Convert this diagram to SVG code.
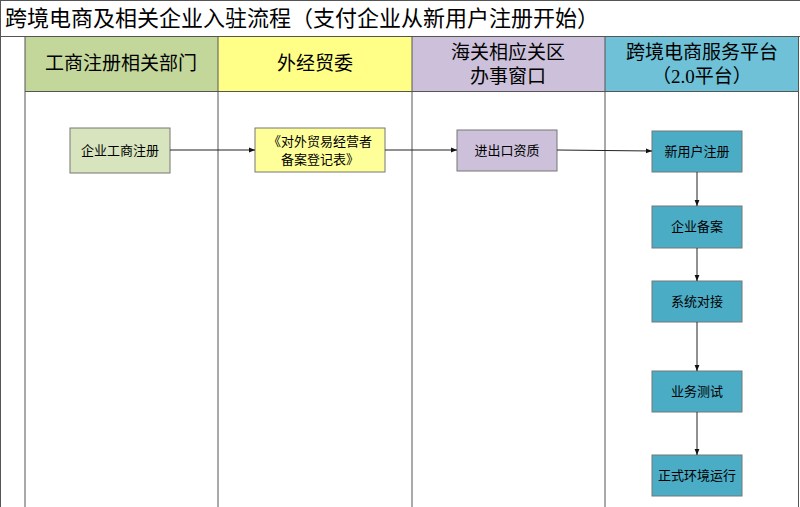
<svg xmlns="http://www.w3.org/2000/svg" width="800" height="507" viewBox="0 0 800 507">
<style>
text{font-family:"Liberation Serif","Noto Sans CJK SC",serif;fill:#000;text-anchor:middle}
.h{font-size:19px}
.b{font-size:13px}
.ln{stroke:#555;stroke-width:1;fill:none}
.box{stroke:#777;stroke-width:1}
.c{stroke:#222;stroke-width:1;fill:none;marker-end:url(#a)}
</style>
<defs><marker id="a" viewBox="0 0 10 10" refX="10" refY="5" markerWidth="8" markerHeight="6" orient="auto"><path d="M0,1L10,5L0,9z" fill="#111"/></marker></defs>
<rect x="0" y="0" width="800" height="507" fill="#fff"/>
<text x="5" y="26" style="font-size:22px;text-anchor:start">跨境电商及相关企业入驻流程（支付企业从新用户注册开始）</text>
<g id="lanes">
<rect x="25" y="37" width="193" height="54" fill="#c4d79b"/>
<rect x="218" y="37" width="194" height="54" fill="#ffff88"/>
<rect x="412" y="37" width="193" height="54" fill="#ccc0da"/>
<rect x="605" y="37" width="194" height="54" fill="#6ec1d6"/>
<path class="ln" d="M0,36.5H800M25,91.5H799M25,36V507M218,36V507M412,36V507M605,36V507M798.5,36V507M0.5,0V507M0.5,0.5H800"/>
<text class="h" x="121" y="70">工商注册相关部门</text>
<text class="h" x="315" y="70">外经贸委</text>
<text class="h" x="508" y="59">海关相应关区</text>
<text class="h" x="508" y="83">办事窗口</text>
<text class="h" x="702" y="59">跨境电商服务平台</text>
<text class="h" x="702" y="83">（2.0平台）</text>
</g>
<g id="n1"><rect class="box" x="70" y="128" width="100" height="45" fill="#d7e4bd"/><text class="b" x="120" y="155">企业工商注册</text></g>
<g id="n2"><rect class="box" x="255" y="128" width="130" height="44" fill="#ffff99"/><text class="b" x="320" y="146">《对外贸易经营者</text><text class="b" x="320" y="164">备案登记表》</text></g>
<g id="n3"><rect class="box" x="457" y="130" width="100" height="41" fill="#ccc0da"/><text class="b" x="507" y="155">进出口资质</text></g>
<g id="n4"><rect class="box" x="652" y="131" width="90" height="41" fill="#4bacc6"/><text class="b" x="697" y="156">新用户注册</text></g>
<g id="n5"><rect class="box" x="652" y="206" width="90" height="42" fill="#4bacc6"/><text class="b" x="697" y="231">企业备案</text></g>
<g id="n6"><rect class="box" x="652" y="281" width="90" height="41" fill="#4bacc6"/><text class="b" x="697" y="306">系统对接</text></g>
<g id="n7"><rect class="box" x="652" y="371" width="90" height="41" fill="#4bacc6"/><text class="b" x="697" y="396">业务测试</text></g>
<g id="n8"><rect class="box" x="652" y="455" width="90" height="41" fill="#4bacc6"/><text class="b" x="697" y="480">正式环境运行</text></g>
<g id="connectors">
<path class="c" d="M170,150H255"/>
<path class="c" d="M385,150H457"/>
<path class="c" d="M557,150L652,151"/>
<path class="c" d="M697,172V206"/>
<path class="c" d="M697,248V281"/>
<path class="c" d="M697,322V371"/>
<path class="c" d="M697,412V455"/>
</g>
</svg>
